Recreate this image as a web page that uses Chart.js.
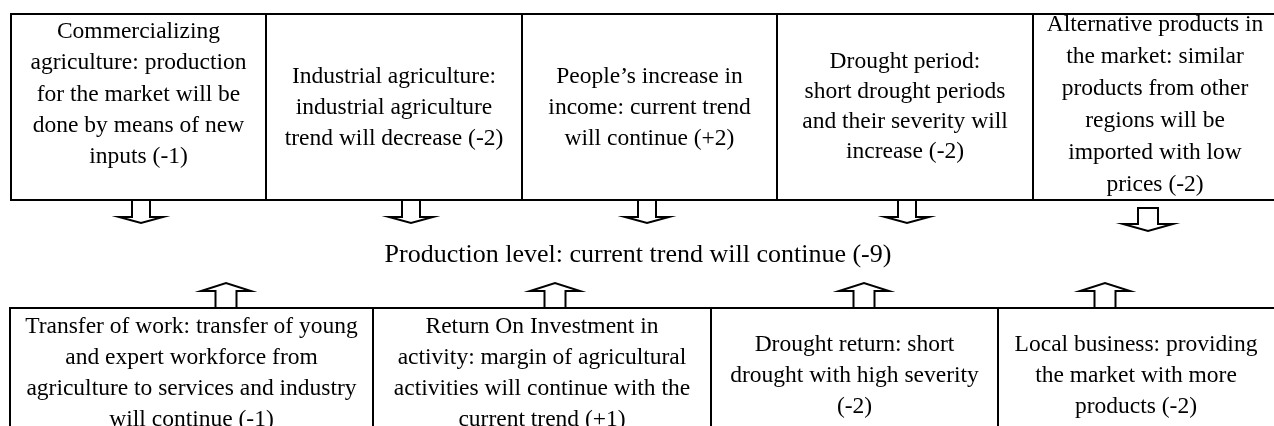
<!DOCTYPE html>
<html><head><meta charset="utf-8">
<script src="https://cdn.jsdelivr.net/npm/chart.js@4/dist/chart.umd.min.js"></script>
<style>html,body{margin:0;padding:0;background:#fff;}#wrap{width:1274px;height:426px;position:relative;}</style>
</head><body><div id="wrap"><canvas id="c" width="1274" height="426"></canvas></div>
<script>
// ---- data ----
const topFactors = [
  ["Commercializing", "agriculture: production", "for the market will be", "done by means of new", "inputs"],
  ["Industrial agriculture:", "industrial agriculture", "trend will decrease"],
  ["People\u2019s increase in", "income: current trend", "will continue"],
  ["Drought period:", "short drought periods", "and their severity will", "increase"],
  ["Alternative products in", "the market: similar", "products from other", "regions will be", "imported with low", "prices"]
];
const topImpacts = [-1, -2, 2, -2, -2];
const bottomFactors = [
  ["Transfer of work: transfer of young", "and expert workforce from", "agriculture to services and industry", "will continue"],
  ["Return On Investment in", "activity: margin of agricultural", "activities will continue with the", "current trend"],
  ["Drought return: short", "drought with high severity", ""],
  ["Local business: providing", "the market with more", "products"]
];
const bottomImpacts = [-1, 1, -2, -2];
const outcomeLabel = "Production level: current trend will continue";
const outcomeImpact = -9;

// ---- layout (diagram units on the chart's x / y scales) ----
const topEdges = [11, 266, 522, 777, 1033, 1277];
const topBand = [14, 200];
const bottomEdges = [10, 373, 711, 998, 1277];
const bottomBand = [308, 440];
const topTextStart = [32, 77, 77, 62, 24.5];
const topTextStep = [31.2, 31, 31, 30, 32];
const bottomTextStart = [327, 327, 345, 345];
const bottomTextStep = 31;
const downArrowX = [141, 411, 647, 907, 1148];
const downArrowGeom = [
  {y0:200, yb:217, yt:223, hw:9, ww:22},
  {y0:200, yb:217, yt:223, hw:9, ww:22},
  {y0:200, yb:217, yt:223, hw:9, ww:22},
  {y0:200, yb:217, yt:223, hw:9, ww:22},
  {y0:208, yb:224, yt:231, hw:10, ww:25}
];
const upArrowX = [226, 555, 864, 1105];
const upArrowGeom = {y0:308, yb:291, yt:283, hw:10.5, ww:25};
const outcomeX = 638, outcomeY = 255;
const boxFont = "23.5px 'Liberation Serif', 'Times New Roman', serif";
const outcomeFont = "26px 'Liberation Serif', 'Times New Roman', serif";

function fmt(v){ return "(" + (v > 0 ? "+" + v : String(v)) + ")"; }
function withImpact(lines, v){
  const out = lines.slice();
  const last = out.length - 1;
  out[last] = out[last] ? out[last] + " " + fmt(v) : fmt(v);
  return out;
}

const diagramPlugin = {
  id: 'diagram',
  afterDatasetsDraw(chart){
    const ctx = chart.ctx, X = chart.scales.x, Y = chart.scales.y;
    const px = v => X.getPixelForValue(v), py = v => Y.getPixelForValue(v);
    ctx.save();
    ctx.strokeStyle = '#000'; ctx.fillStyle = '#000'; ctx.lineWidth = 2;
    function row(edges, band){
      ctx.beginPath();
      ctx.rect(px(edges[0]), py(band[0]), px(edges[edges.length-1]) - px(edges[0]), py(band[1]) - py(band[0]));
      for (let i = 1; i < edges.length - 1; i++){
        ctx.moveTo(px(edges[i]), py(band[0])); ctx.lineTo(px(edges[i]), py(band[1]));
      }
      ctx.stroke();
    }
    row(topEdges, topBand);
    row(bottomEdges, bottomBand);
    ctx.textAlign = 'center'; ctx.textBaseline = 'middle'; ctx.font = boxFont;
    topFactors.forEach((lines, i) => {
      const cx = (topEdges[i] + topEdges[i+1]) / 2;
      withImpact(lines, topImpacts[i]).forEach((t, k) => ctx.fillText(t, px(cx), py(topTextStart[i] + k * topTextStep[i])));
    });
    bottomFactors.forEach((lines, i) => {
      const cx = (bottomEdges[i] + Math.min(bottomEdges[i+1], 1274)) / 2;
      withImpact(lines, bottomImpacts[i]).forEach((t, k) => ctx.fillText(t, px(cx), py(bottomTextStart[i] + k * bottomTextStep)));
    });
    ctx.font = outcomeFont;
    ctx.fillText(outcomeLabel + " " + fmt(outcomeImpact), px(outcomeX), py(outcomeY));
    function arrow(cx, g){
      ctx.beginPath();
      ctx.moveTo(px(cx - g.hw), py(g.y0));
      ctx.lineTo(px(cx - g.hw), py(g.yb));
      ctx.lineTo(px(cx - g.ww), py(g.yb));
      ctx.lineTo(px(cx), py(g.yt));
      ctx.lineTo(px(cx + g.ww), py(g.yb));
      ctx.lineTo(px(cx + g.hw), py(g.yb));
      ctx.lineTo(px(cx + g.hw), py(g.y0));
      ctx.closePath();
      ctx.fillStyle = '#fff'; ctx.fill();
      ctx.lineJoin = 'miter'; ctx.stroke();
      ctx.fillStyle = '#000';
    }
    downArrowX.forEach((x, i) => arrow(x, downArrowGeom[i]));
    upArrowX.forEach(x => arrow(x, upArrowGeom));
    ctx.restore();
  }
};

new Chart(document.getElementById('c'), {
  type: 'scatter',
  data: { datasets: [{ data: [], pointRadius: 0 }] },
  options: {
    responsive: false, animation: false, devicePixelRatio: 1,
    layout: { padding: 0 },
    plugins: { legend: { display: false }, tooltip: { enabled: false } },
    scales: {
      x: { type: 'linear', min: 0, max: 1274, display: false },
      y: { type: 'linear', min: 0, max: 426, reverse: true, display: false }
    }
  },
  plugins: [diagramPlugin]
});
</script>
</body></html>
